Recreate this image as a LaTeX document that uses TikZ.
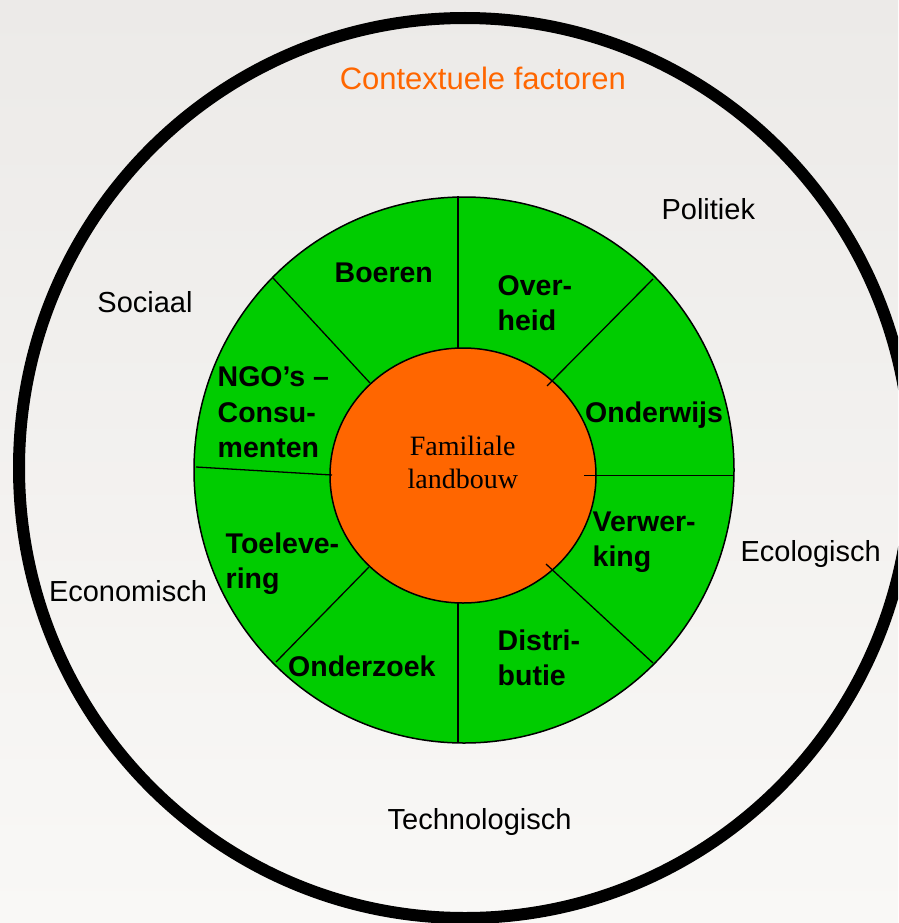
\documentclass[tikz,border=0pt]{standalone}
\usepackage{fontspec}
\setmainfont{Liberation Sans}
\newfontfamily\serifface{Liberation Serif}
\definecolor{bgtop}{HTML}{ECEAE8}
\definecolor{bgbot}{HTML}{F9F8F6}
\definecolor{ringgreen}{HTML}{00CC00}
\definecolor{coreorange}{HTML}{FF6600}
\tikzset{
  ctxlabel/.style={inner sep=0pt, anchor=base, font=\fontsize{29}{35}\selectfont},
  titlelabel/.style={inner sep=0pt, anchor=base, text=coreorange, font=\fontsize{31}{37}\selectfont},
  actorlabel/.style={inner sep=0pt, anchor=base west, font=\bfseries\fontsize{28.5}{35}\selectfont},
  corelabel/.style={inner sep=0pt, anchor=base, font=\serifface\fontsize{28}{33}\selectfont},
  divider/.style={draw=black, line width=1.3pt},
}
\begin{document}
\begin{tikzpicture}[x=1pt,y=-1pt]
\useasboundingbox (0,0) rectangle (898,923);
\clip (0,0) rectangle (898,923);
% background
\fill[top color=bgtop, bottom color=bgbot] (0,0) rectangle (898,923);
% outer context circle
\draw[line width=12pt, black] (465,468) ellipse [x radius=446pt, y radius=450pt];
% green ring
\filldraw[fill=ringgreen, draw=black, line width=1.5pt] (464,470) ellipse [x radius=270pt, y radius=273pt];
% orange core
\filldraw[fill=coreorange, draw=black, line width=1.5pt] (463,475.5) ellipse [x radius=133pt, y radius=127.5pt];
% dividers
\draw[divider] (458,196) -- (458,348);
\draw[divider] (653,279) -- (547,386);
\draw[divider] (734,475.7) -- (584,475.7);
\draw[divider] (653,663) -- (546,564);
\draw[divider] (458,743) -- (458,603);
\draw[divider] (276,662) -- (369,567);
\draw[divider] (196,467) -- (332,475);
\draw[divider] (273,278) -- (370,383);
% title and context labels
\node[titlelabel] (title) at (482.8,89.3) {Contextuele factoren};
\node[ctxlabel] (politiek) at (708.3,219) {Politiek};
\node[ctxlabel] (sociaal) at (145,312) {Sociaal};
\node[ctxlabel] (economisch) at (128,601.7) {Economisch};
\node[ctxlabel] (ecologisch) at (810.7,561.7) {Ecologisch};
\node[ctxlabel] (technologisch) at (479.6,829.3) {Technologisch};
% actor labels
\node[actorlabel] (boeren) at (334.5,282.7) {Boeren};
\node[actorlabel] (overheidA) at (497.5,295) {Over-};
\node[actorlabel] (overheidB) at (497.5,330) {heid};
\node[actorlabel] (onderwijs) at (585,422.7) {Onderwijs};
\node[actorlabel] (verwerkingA) at (592.5,531.7) {Verwer-};
\node[actorlabel] (verwerkingB) at (592.5,566.7) {king};
\node[actorlabel] (distributieA) at (497.5,650) {Distri-};
\node[actorlabel] (distributieB) at (497.5,685) {butie};
\node[actorlabel] (onderzoek) at (288,676) {Onderzoek};
\node[actorlabel] (toeleveringA) at (225.5,553.3) {Toeleve-};
\node[actorlabel] (toeleveringB) at (225.5,588.3) {ring};
\node[actorlabel] (ngoA) at (217.5,386) {NGO’s –};
\node[actorlabel] (ngoB) at (217.5,422.7) {Consu-};
\node[actorlabel] (ngoC) at (217.5,457.3) {menten};
% core label
\node[corelabel] (coreA) at (462.7,455) {Familiale};
\node[corelabel] (coreB) at (462.8,488.3) {landbouw};
\end{tikzpicture}
\end{document}
